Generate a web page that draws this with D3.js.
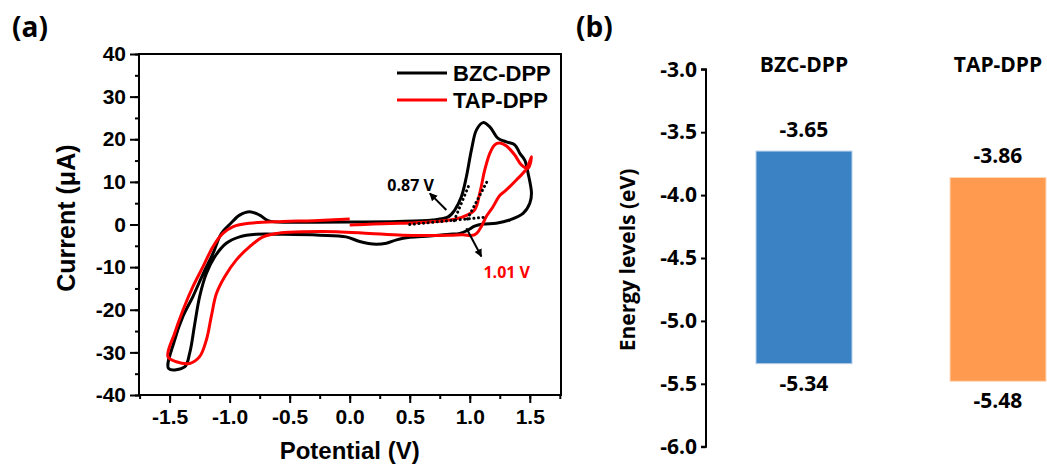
<!DOCTYPE html>
<html>
<head>
<meta charset="utf-8">
<script src="https://cdn.jsdelivr.net/npm/d3@7"></script>
<style>
  body { margin: 0; background: #fff; }
  svg { display: block; }
</style>
</head>
<body>
<div id="wrapper"></div>
<script>
// ---- panel (a): cyclic voltammetry, [potential V, current uA] ----
const bzcCV = [
  [-0.55, 0.5], [-0.3, 0.55], [0, 0.6], [0.4, 0.7], [0.69, 1.06], [0.82, 1.8], [0.875, 3.4],
  [0.93, 6.5], [0.972, 11.2], [1.014, 17.5], [1.056, 22.2], [1.111, 23.9], [1.167, 22.9],
  [1.236, 20.2], [1.306, 19.4], [1.375, 18.7], [1.417, 16.7], [1.458, 15.1], [1.486, 12.0],
  [1.514, 7.3], [1.5, 5.0], [1.444, 2.6], [1.333, 1.06], [1.22, 0.3], [1.11, 0.1],
  [1.04, -0.4], [0.986, -1.3], [0.917, -2.1], [0.833, -2.3], [0.667, -2.7], [0.5, -3.0],
  [0.39, -3.6], [0.305, -4.4], [0.194, -4.6], [0.083, -4.0], [-0.03, -2.9], [-0.25, -2.5],
  [-0.55, -2.3], [-0.78, -2.3], [-0.917, -2.9], [-1.028, -4.4], [-1.125, -7.6], [-1.194, -11.5],
  [-1.25, -16.9], [-1.29, -23.2], [-1.333, -30.2], [-1.375, -33.4], [-1.508, -33.8],
  [-1.458, -27.1], [-1.39, -21.6], [-1.306, -16.9], [-1.22, -11.5], [-1.139, -6.8],
  [-1.069, -2.1], [-0.99, 0.3], [-0.917, 2.2], [-0.833, 3.0], [-0.75, 2.2], [-0.68, 0.9],
  [-0.55, 0.5]
];
const tapCV = [
  [0, -0.1], [0.2, 0.1], [0.417, 0.28], [0.667, 0.6], [0.833, 1.06], [0.944, 1.8], [1.04, 3.4],
  [1.083, 7.3], [1.125, 12.8], [1.167, 16.7], [1.208, 18.7], [1.25, 19.1], [1.306, 18.4],
  [1.375, 16.3], [1.43, 14.0], [1.486, 13.2], [1.514, 15.9], [1.47, 13.0], [1.39, 10.5],
  [1.3, 8.0], [1.25, 6.8], [1.19, 4.0], [1.14, 2.0], [1.1, -0.3], [1.06, -2.0], [1.014, -2.6],
  [0.944, -2.4], [0.833, -2.5], [0.444, -2.5], [0.167, -2.1], [-0.11, -1.7], [-0.39, -1.7],
  [-0.5, -1.8], [-0.61, -2.1], [-0.722, -2.9], [-0.833, -5.2], [-0.944, -8.3], [-1.04, -12.2],
  [-1.11, -16.2], [-1.153, -21.6], [-1.194, -27.1], [-1.25, -31.0], [-1.333, -32.6],
  [-1.444, -32.2], [-1.514, -31.0], [-1.458, -25.5], [-1.389, -20.1], [-1.306, -14.6],
  [-1.222, -9.9], [-1.139, -5.2], [-1.056, -2.1], [-0.97, -0.5], [-0.833, 0.3], [-0.555, 0.7],
  [-0.3, 0.9], [0, 1.3]
];
// onset construction lines (dotted)
const onsetLines = [
  [[0.5, 0.0], [1.125, 1.7]],
  [[0.87, 0.9], [0.99, 9.0]],
  [[0.98, 1.3], [1.15, 10.4]]
];
const cvSeries = ["BZC-DPP", "TAP-DPP"];
const cvColors = ["#000000", "#ff0000"];
const xTicksA = [-1.5, -1.0, -0.5, 0.0, 0.5, 1.0, 1.5];
const yTicksA = [-40, -30, -20, -10, 0, 10, 20, 30, 40];
// annotations: label, label position, arrow from, arrow to
const onsetNotes = [
  { text: "0.87 V", color: "#000", at: [0.507, 9.3], from: [0.805, 3.4], to: [0.667, 7.3] },
  { text: "1.01 V", color: "#ff0000", at: [1.308, -11.1], from: [0.972, -0.9], to: [1.097, -7.5] }
];

// ---- panel (b): energy levels ----
const molecules = ["BZC-DPP", "TAP-DPP"];
const lumo = [-3.65, -3.86];
const homo = [-5.34, -5.48];
const barColors = ["#3b82c4", "#ff9a4f"];
const yTicksB = [-3.0, -3.5, -4.0, -4.5, -5.0, -5.5, -6.0];

const W = 1047, H = 466;
const svg = d3.select("#wrapper").append("svg").attr("width", W).attr("height", H);

const fontA = "'Liberation Sans', Arial, sans-serif";
const fontB = "'Open Sans', 'Noto Sans', sans-serif";
const hyphen = f => d => f(d).replace("\u2212", "-");

// ===== panel (a) =====
const x = d3.scaleLinear().domain([-1.755, 1.76]).range([139, 561]);
const y = d3.scaleLinear().domain([-40, 40]).range([395, 54]);

svg.append("text").text("(a)")
  .attr("x", 12).attr("y", 37)
  .attr("font-family", fontB).attr("font-weight", 700).attr("font-size", 28);

// minor ticks
svg.append("g").attr("transform", `translate(0,${y(-40)})`)
  .call(d3.axisBottom(x).tickValues(d3.range(-1.75, 1.76, 0.25)).tickSize(4).tickFormat(""))
  .call(g => g.select(".domain").remove())
  .call(g => g.selectAll("line").attr("stroke-width", 2));
svg.append("g").attr("transform", `translate(${x(-1.755)},0)`)
  .call(d3.axisLeft(y).tickValues(d3.range(-40, 41, 5)).tickSize(4).tickFormat(""))
  .call(g => g.select(".domain").remove())
  .call(g => g.selectAll("line").attr("stroke-width", 2));

// major ticks
const xAxisA = svg.append("g").attr("transform", `translate(0,${y(-40)})`)
  .call(d3.axisBottom(x).tickValues(xTicksA).tickSize(8).tickPadding(6).tickFormat(hyphen(d3.format(".1f"))));
const yAxisA = svg.append("g").attr("transform", `translate(${x(-1.755)},0)`)
  .call(d3.axisLeft(y).tickValues(yTicksA).tickSize(9).tickPadding(4).tickFormat(hyphen(d3.format("d"))));
[xAxisA, yAxisA].forEach(g => {
  g.select(".domain").remove();
  g.selectAll("line").attr("stroke-width", 2);
  g.selectAll("text").attr("font-family", fontA).attr("font-weight", "bold")
    .attr("font-size", 21).attr("fill", "#000");
});

// frame
svg.append("rect")
  .attr("x", x(-1.755)).attr("y", y(40))
  .attr("width", x(1.76) - x(-1.755)).attr("height", y(-40) - y(40))
  .attr("fill", "none").attr("stroke", "#000").attr("stroke-width", 2);

// axis titles
svg.append("text").text("Potential (V)")
  .attr("x", x(0)).attr("y", 459).attr("text-anchor", "middle")
  .attr("font-family", fontA).attr("font-weight", "bold").attr("font-size", 24);
svg.append("text").text("Current (\u03bcA)")
  .attr("transform", `translate(75,${y(1.5)}) rotate(-90)`).attr("text-anchor", "middle")
  .attr("font-family", fontA).attr("font-weight", "bold").attr("font-size", 25);

// curves
const line = d3.line().curve(d3.curveCatmullRom.alpha(0.5)).x(d => x(d[0])).y(d => y(d[1]));
const cvData = [bzcCV, tapCV];
svg.append("g").selectAll("path").data(cvData).enter().append("path")
  .attr("d", d => line(d))
  .attr("fill", "none")
  .attr("stroke", (d, i) => cvColors[i])
  .attr("stroke-width", 3)
  .attr("stroke-linejoin", "round");

// dotted onset lines
svg.append("g").selectAll("path").data(onsetLines).enter().append("path")
  .attr("d", d => d3.line().x(p => x(p[0])).y(p => y(p[1]))(d))
  .attr("stroke", "#000").attr("stroke-width", 3)
  .attr("stroke-dasharray", "0.1,4.5").attr("stroke-linecap", "round");

// arrow markers
const defs = svg.append("defs");
onsetNotes.forEach((n, i) => {
  defs.append("marker").attr("id", "arr" + i)
    .attr("viewBox", "0 0 10 10").attr("refX", 9).attr("refY", 5)
    .attr("markerWidth", 4).attr("markerHeight", 4).attr("orient", "auto")
    .append("path").attr("d", "M0,0 L10,5 L0,10 z").attr("fill", "#000");
});
const notes = svg.append("g");
onsetNotes.forEach((n, i) => {
  notes.append("line")
    .attr("x1", x(n.from[0])).attr("y1", y(n.from[1]))
    .attr("x2", x(n.to[0])).attr("y2", y(n.to[1]))
    .attr("stroke", "#000").attr("stroke-width", 2)
    .attr("marker-end", `url(#arr${i})`);
  notes.append("text").text(n.text)
    .attr("x", x(n.at[0])).attr("y", y(n.at[1])).attr("dy", "0.36em")
    .attr("text-anchor", "middle")
    .attr("font-family", fontB).attr("font-weight", 700).attr("font-size", 16)
    .attr("fill", n.color);
});

// legend
const legend = svg.append("g").selectAll("g").data(cvSeries).enter().append("g")
  .attr("transform", (d, i) => `translate(397,${73 + i * 27})`);
legend.append("line").attr("x1", 0).attr("x2", 50)
  .attr("stroke", (d, i) => cvColors[i]).attr("stroke-width", 3);
legend.append("text").text(d => d)
  .attr("x", 56).attr("dy", "0.36em")
  .attr("font-family", fontA).attr("font-weight", "bold").attr("font-size", 22);

// ===== panel (b) =====
const yb = d3.scaleLinear().domain([-6, -3]).range([446.7, 69.3]);
const xb = d3.scalePoint().domain(molecules).range([804, 998]);
const barW = 96;

svg.append("text").text("(b)")
  .attr("x", 576).attr("y", 37)
  .attr("font-family", fontB).attr("font-weight", 700).attr("font-size", 28);

const yAxisB = svg.append("g").attr("transform", "translate(706,0)")
  .call(d3.axisLeft(yb).tickValues(yTicksB).tickSize(5).tickPadding(4).tickFormat(hyphen(d3.format(".1f"))));
yAxisB.select(".domain").attr("stroke-width", 2).attr("d", `M-5,${yb(-6)}H0V${yb(-3)}H-5`);
yAxisB.selectAll("line").attr("stroke-width", 2);
yAxisB.selectAll("text").attr("font-family", fontB).attr("font-weight", 700)
  .attr("font-size", 21).attr("fill", "#000");

svg.append("text").text("Energy levels (eV)")
  .attr("transform", "translate(635,260) rotate(-90)").attr("text-anchor", "middle")
  .attr("font-family", fontB).attr("font-weight", 700).attr("font-size", 21);

const bars = svg.append("g").selectAll("g").data(molecules).enter().append("g");
bars.append("rect")
  .attr("x", d => xb(d) - barW / 2).attr("width", barW)
  .attr("y", (d, i) => yb(lumo[i]))
  .attr("height", (d, i) => yb(homo[i]) - yb(lumo[i]))
  .attr("fill", (d, i) => barColors[i])
  .attr("stroke", (d, i) => i === 0 ? "#b7d0ea" : "#ffd9bd").attr("stroke-width", 1);
bars.append("text").text(d => d)
  .attr("x", d => xb(d)).attr("y", 71.5).attr("text-anchor", "middle")
  .attr("font-family", fontB).attr("font-weight", 700).attr("font-size", 21);
bars.append("text").text((d, i) => lumo[i].toFixed(2))
  .attr("x", d => xb(d)).attr("y", (d, i) => yb(lumo[i]) - 14).attr("text-anchor", "middle")
  .attr("font-family", fontB).attr("font-weight", 700).attr("font-size", 21);
bars.append("text").text((d, i) => homo[i].toFixed(2))
  .attr("x", d => xb(d)).attr("y", (d, i) => yb(homo[i]) + 27).attr("text-anchor", "middle")
  .attr("font-family", fontB).attr("font-weight", 700).attr("font-size", 21);
</script>
</body>
</html>
